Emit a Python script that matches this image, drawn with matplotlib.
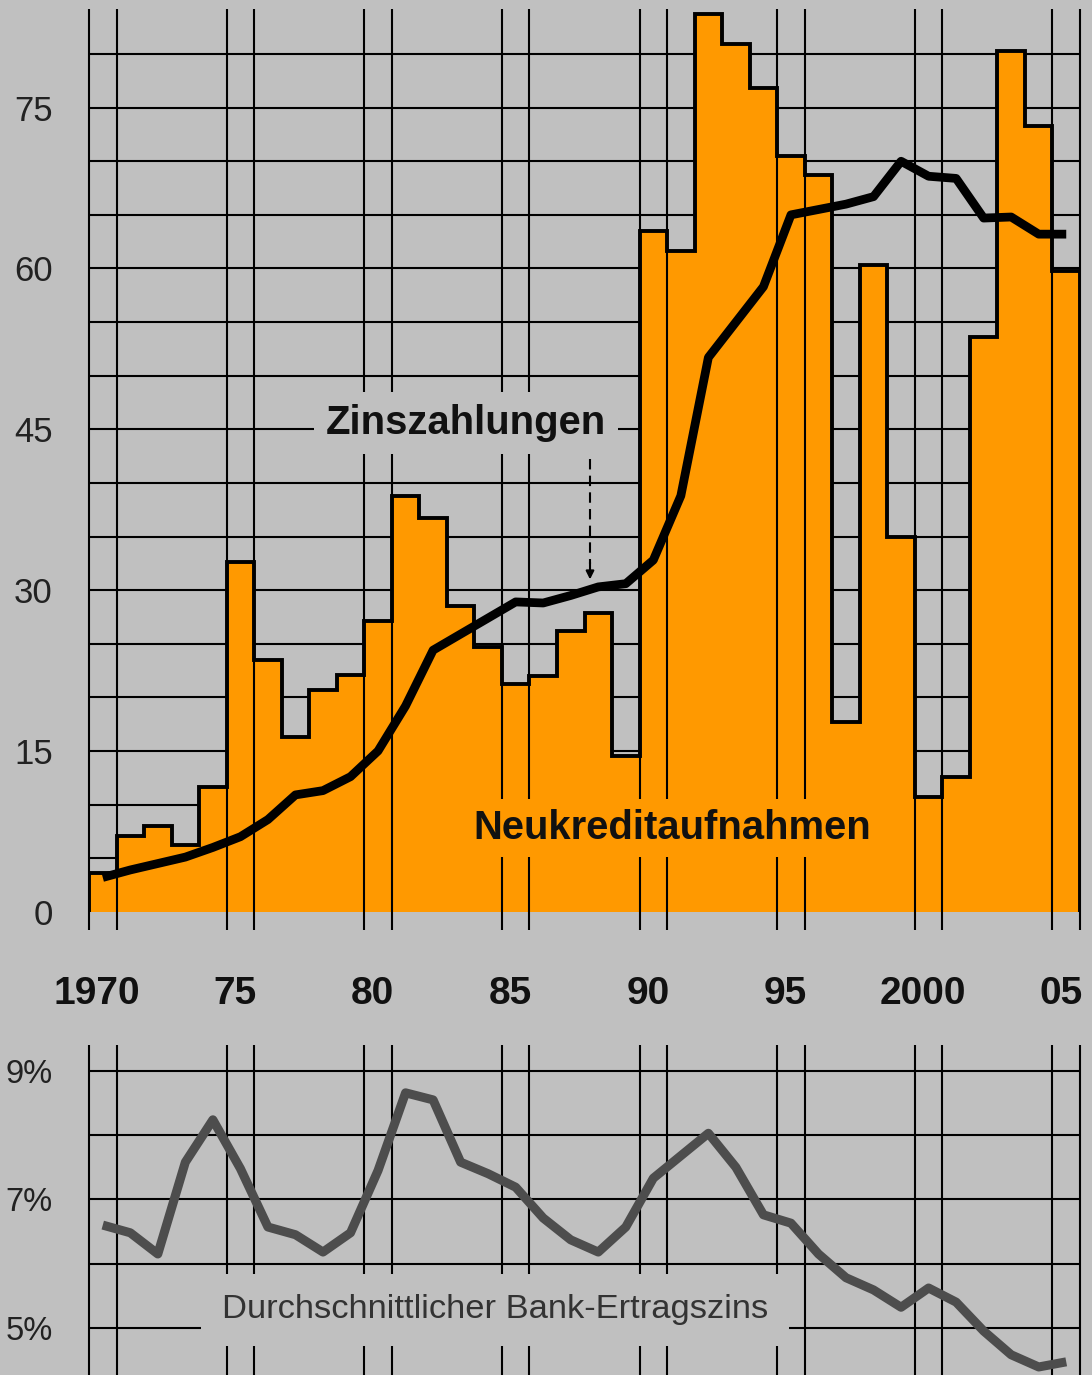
import numpy as np
import matplotlib
matplotlib.use("Agg")
import matplotlib.pyplot as plt
from matplotlib.transforms import blended_transform_factory

plt.rcParams['font.family'] = ['Liberation Sans', 'DejaVu Sans']

# ----- data -----
years = list(range(1970, 2006))
neukredit = [3.6, 7.1, 8.0, 6.2, 11.6, 32.6, 23.5, 16.3, 20.7, 22.1,
             27.1, 38.8, 36.7, 28.5, 24.7, 21.2, 22.0, 26.2, 27.9, 14.5,
             63.5, 61.6, 83.7, 80.9, 76.8, 70.5, 68.7, 17.7, 60.3, 35.0,
             10.7, 12.6, 53.6, 80.3, 73.3, 59.8]
zinszahlungen = [3.2, 3.9, 4.5, 5.1, 6.0, 7.0, 8.6, 10.9, 11.3, 12.6,
                 15.0, 19.2, 24.4, 25.9, 27.4, 28.9, 28.8, 29.5, 30.3, 30.6,
                 32.8, 38.8, 51.7, 55.0, 58.3, 65.0, 65.5, 66.0, 66.7, 70.0,
                 68.6, 68.4, 64.7, 64.8, 63.2, 63.2]
ertragszins = [6.60, 6.48, 6.15, 7.58, 8.24, 7.48, 6.57, 6.45, 6.18, 6.48,
               7.45, 8.66, 8.55, 7.58, 7.40, 7.19, 6.71, 6.37, 6.18, 6.57,
               7.33, 7.68, 8.03, 7.50, 6.76, 6.63, 6.15, 5.78, 5.59, 5.32,
               5.62, 5.40, 4.95, 4.58, 4.39, 4.47]
tick_years = [1970, 1975, 1980, 1985, 1990, 1995, 2000, 2005]
tick_labels = ['1970', '75', '80', '85', '90', '95', '2000', '05']
top_yticks = [0, 15, 30, 45, 60, 75]
bottom_yticks = [5, 7, 9]
bottom_ylabels = ['5%', '7%', '9%']

BG = '#c0c0c0'
ORANGE = '#ff9900'
W, H = 1092, 1375

fig = plt.figure(figsize=(W / 100, H / 100), dpi=100, facecolor=BG)


def px_axes(left, top, right, bottom):
    return fig.add_axes([left / W, 1 - bottom / H, (right - left) / W, (bottom - top) / H])


ax = px_axes(89, 9, 1080, 930)
ax2 = px_axes(89, 1045, 1080, 1375)

x0, x1 = years[0] - 0.5, years[-1] + 0.5
vlines_x = []
for y in tick_years:
    vlines_x += [y - 0.5, y + 0.5]

for a in (ax, ax2):
    a.set_facecolor(BG)
    for s in a.spines.values():
        s.set_visible(False)
    a.set_xlim(x0, x1)
    a.set_xticks([])

# ----- top panel -----
ylo, yhi = -1.7, 84.2
ax.set_ylim(ylo, yhi)
ax.hlines(np.arange(5, 85, 5), x0, x1, color='k', lw=1.5, zorder=1)
edges = np.arange(x0, x1 + 1, 1.0)
ax.stairs(neukredit, edges, baseline=0, fill=True, facecolor=ORANGE,
          edgecolor='k', lw=2.8, zorder=2)
ax.vlines(vlines_x, ylo, yhi, color='k', lw=1.5, zorder=3, clip_on=False)
ax.plot(years, zinszahlungen, color='k', lw=6.3, solid_joinstyle='round',
        solid_capstyle='butt', zorder=6)

ax.text(1983.2, 45.6, 'Zinszahlungen', ha='center', va='center', fontsize=28.8,
        fontweight='bold', color='#111',
        bbox=dict(boxstyle='square,pad=0.3', fc=BG, ec='none'), zorder=4)
ax.text(1990.7, 7.8, 'Neukreditaufnahmen', ha='center', va='center', fontsize=28.8,
        fontweight='bold', color='#111',
        bbox=dict(boxstyle='square,pad=0.25', fc=ORANGE, ec='none'), zorder=4)

# dashed pointer from the label down to the interest line
ax.plot([1987.7, 1987.7], [42.2, 32.4], color='k', lw=1.5, ls=(0, (5, 3)), zorder=5)
ax.annotate('', xy=(1987.7, 31.0), xytext=(1987.7, 32.6),
            arrowprops=dict(arrowstyle='-|>', color='k', lw=1.5,
                            mutation_scale=12, shrinkA=0, shrinkB=0), zorder=5)

ax.set_yticks(top_yticks)
ax.tick_params(axis='y', length=0, pad=26, labelsize=25, labelcolor='#222')

trans = blended_transform_factory(ax.transData, ax.transAxes)
for yr, lab in zip(tick_years, tick_labels):
    ax.text(yr - 0.2, -0.0695, lab, transform=trans, ha='center', va='center',
            fontsize=28, fontweight='bold', color='#111')

# ----- bottom panel -----
blo, bhi = 4.265, 9.405
ax2.set_ylim(blo, bhi)
ax2.hlines([5, 6, 7, 8, 9], x0, x1, color='k', lw=1.5, zorder=1)
ax2.vlines(vlines_x, blo, bhi, color='k', lw=1.5, zorder=1, clip_on=False)
ax2.plot(years, ertragszins, color='#4d4d4d', lw=6.5, solid_joinstyle='round',
         solid_capstyle='butt', zorder=5)
ax2.text(1984.25, 5.28, 'Durchschnittlicher Bank-Ertragszins', ha='center', va='center',
         fontsize=24.8, color='#333',
         bbox=dict(boxstyle='square,pad=0.6', fc=BG, ec='none'), zorder=3)
ax2.set_yticks(bottom_yticks)
ax2.set_yticklabels(bottom_ylabels)
ax2.tick_params(axis='y', length=0, pad=26, labelsize=23.5, labelcolor='#222')

fig.savefig('out.png', dpi=100, facecolor=BG)
